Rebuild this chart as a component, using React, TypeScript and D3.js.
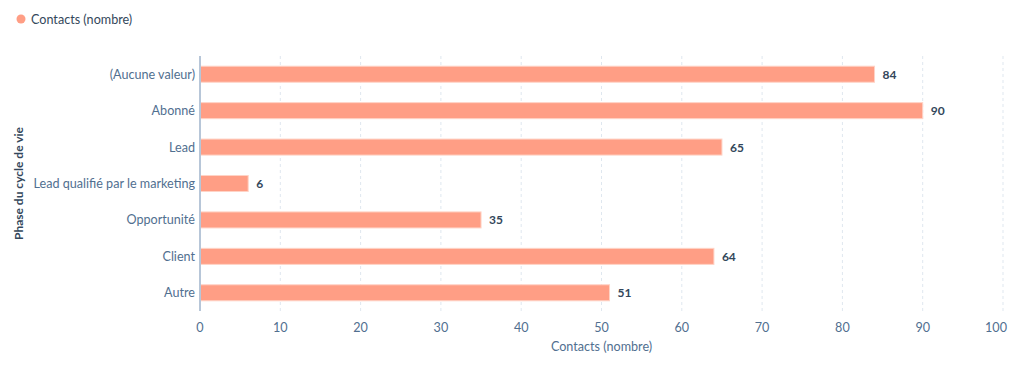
import * as d3 from "d3";

const categories = [
  "(Aucune valeur)",
  "Abonné",
  "Lead",
  "Lead qualifié par le marketing",
  "Opportunité",
  "Client",
  "Autre",
];
const contacts = [84, 90, 65, 6, 35, 64, 51];
const xTicks = [0, 10, 20, 30, 40, 50, 60, 70, 80, 90, 100];

const seriesName = "Contacts (nombre)";
const yTitle = "Phase du cycle de vie";

const W = 1024;
const H = 365;
const font = "Lato, 'Open Sans', sans-serif";
const barColor = "#ff9e85";

const App = () => {
  const margin = { top: 56, right: 21, bottom: 54, left: 200 };

  const x = d3.scaleLinear().domain([0, 100]).range([margin.left, W - margin.right]);
  const y = d3
    .scaleBand()
    .domain(categories)
    .range([margin.top, H - margin.bottom])
    .paddingInner(0.56)
    .paddingOuter(0.28);

  return (
    <svg
      width={W}
      height={H}
      style={{ position: "absolute", left: 0, top: 0, background: "#fff" }}
      fontFamily={font}
    >
      {/* legend */}
      <circle cx={21} cy={19} r={4.5} fill={barColor} />
      <text x={31} y={23.5} fontSize={12.6} fill="#33475b">
        {seriesName}
      </text>

      {/* grid lines */}
      {xTicks.map((t) =>
        t === 0 ? null : (
          <line
            key={"g" + t}
            x1={x(t)}
            x2={x(t)}
            y1={margin.top}
            y2={H - margin.bottom}
            stroke="#dfe7ef"
            strokeDasharray="3,3"
          />
        )
      )}

      {/* bars */}
      {categories.map((c, i) => (
        <g key={c}>
          <rect
            x={x(0)}
            y={y(c) as number}
            width={x(contacts[i]) - x(0)}
            height={y.bandwidth()}
            fill={barColor}
            stroke="#ffd3c6"
            strokeWidth={1}
          />
          <text
            x={x(contacts[i]) + 8}
            y={(y(c) as number) + y.bandwidth() / 2 + 4.5}
            fontSize={12}
            fontWeight="bold"
            fill="#33475b"
          >
            {contacts[i]}
          </text>
          <text
            x={margin.left - 5}
            y={(y(c) as number) + y.bandwidth() / 2 + 4.5}
            fontSize={12.6}
            textAnchor="end"
            fill="#516f90"
          >
            {c}
          </text>
        </g>
      ))}

      {/* y axis line */}
      <line
        x1={x(0)}
        x2={x(0)}
        y1={margin.top}
        y2={H - margin.bottom}
        stroke="#b7c6d8"
        strokeWidth={2}
      />

      {/* x tick labels */}
      {xTicks.map((t) => (
        <text
          key={"t" + t}
          x={t === 100 ? x(t) - 7 : x(t)}
          y={331.5}
          fontSize={12.6}
          textAnchor="middle"
          fill="#516f90"
        >
          {t}
        </text>
      ))}

      {/* axis titles */}
      <text
        x={(x(0) + x(100)) / 2}
        y={350.5}
        fontSize={12.6}
        textAnchor="middle"
        fill="#516f90"
      >
        {seriesName}
      </text>
      <text
        transform={`translate(23,${(margin.top + H - margin.bottom) / 2}) rotate(-90)`}
        fontSize={12}
        fontWeight="bold"
        textAnchor="middle"
        fill="#33475b"
      >
        {yTitle}
      </text>
    </svg>
  );
};

export default App;
